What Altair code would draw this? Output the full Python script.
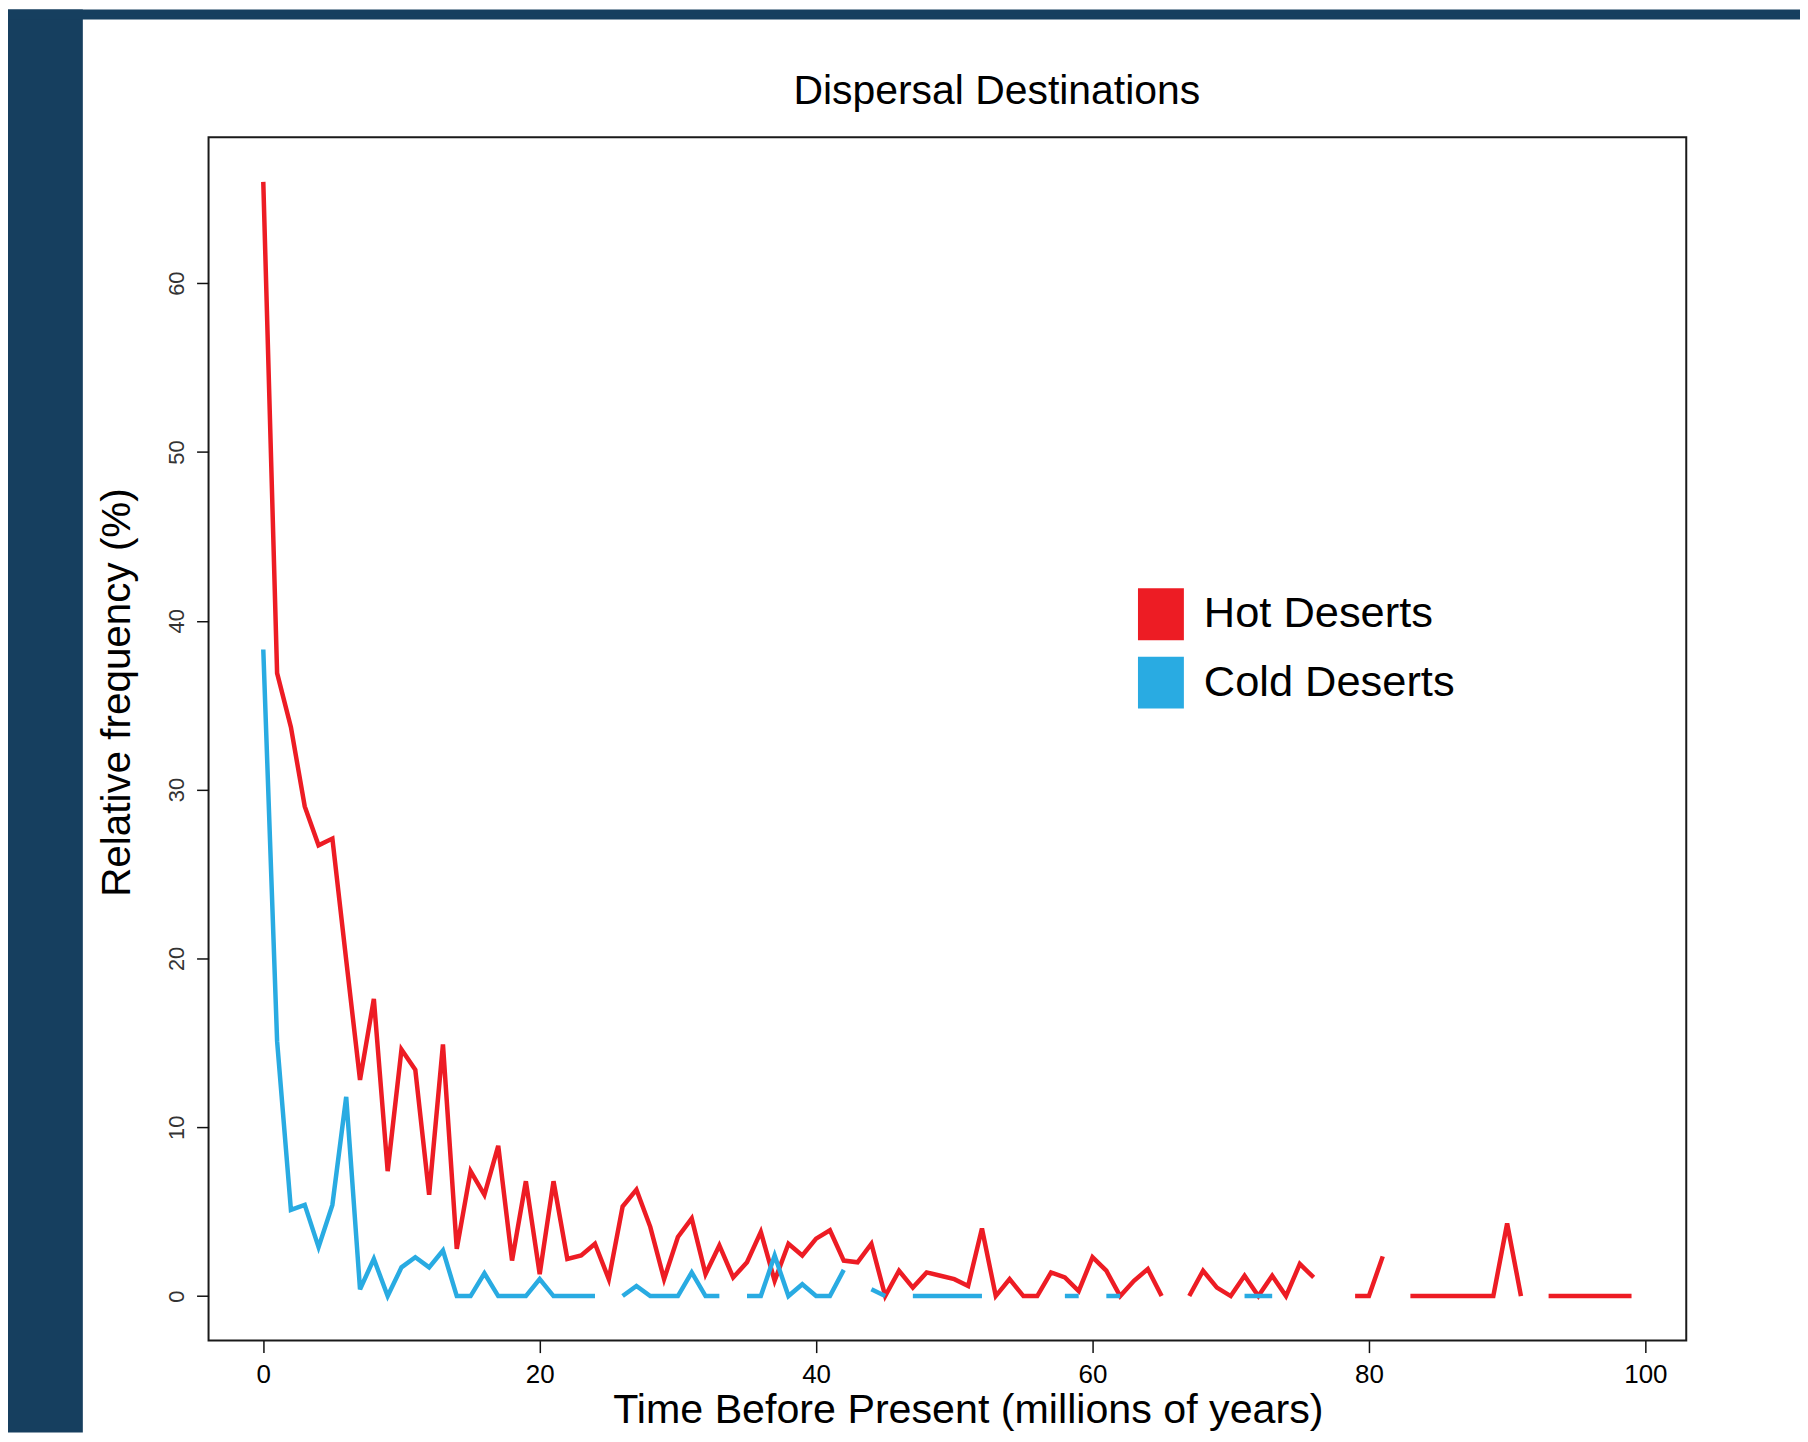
import altair as alt
import pandas as pd

# ---------------- data ----------------
years = list(range(100))

hot = [66.0, 36.9, 33.7, 29.0, 26.7, 27.1, 19.9, 12.8, 17.6, 7.4,
       14.6, 13.4, 6.0, 14.9, 2.8, 7.4, 6.0, 8.9, 2.1, 6.8,
       1.3, 6.8, 2.2, 2.4, 3.1, 1.0, 5.3, 6.3, 4.1, 1.0,
       3.5, 4.6, 1.3, 3.0, 1.1, 2.0, 3.8, 0.9, 3.1, 2.4,
       3.4, 3.9, 2.1, 2.0, 3.1, 0.0, 1.5, 0.5, 1.4, 1.2,
       1.0, 0.6, 4.0, 0.0, 1.0, 0.0, 0.0, 1.4, 1.1, 0.3,
       2.3, 1.5, 0.0, 0.9, 1.6, 0.0, None, 0.0, 1.5, 0.5,
       0.0, 1.2, 0.0, 1.2, 0.0, 1.9, 1.1, None, None, 0.0,
       0.0, 2.35, None, 0.0, 0.0, 0.0, 0.0, 0.0, 0.0, 0.0,
       4.3, 0.0, None, 0.0, 0.0, 0.0, 0.0, 0.0, 0.0, 0.0]

cold = [38.3, 15.1, 5.1, 5.4, 2.9, 5.4, 11.8, 0.4, 2.2, 0.0,
        1.7, 2.3, 1.7, 2.7, 0.0, 0.0, 1.35, 0.0, 0.0, 0.0,
        1.0, 0.0, 0.0, 0.0, 0.0, None, 0.0, 0.6, 0.0, 0.0,
        0.0, 1.4, 0.0, 0.0, None, 0.0, 0.0, 2.4, 0.0, 0.7,
        0.0, 0.0, 1.55, None, 0.4, 0.0, None, 0.0, 0.0, 0.0,
        0.0, 0.0, 0.0, None, None, None, None, None, 0.0, 0.0,
        None, 0.0, 0.0, None, None, None, None, None, None, None,
        None, 0.0, 0.0, 0.0, None, None, None, None, None, None,
        None, None, None, None, None, None, None, None, None, None,
        None, None, None, None, None, None, None, None, None, None]

series_names = ["Hot Deserts", "Cold Deserts"]
series_colors = ["#ED1C24", "#29ABE2"]
x_ticks = [0, 20, 40, 60, 80, 100]
y_ticks = [0, 10, 20, 30, 40, 50, 60]
chart_title = "Dispersal Destinations"

rows = []
for name, vals in zip(series_names, [hot, cold]):
    for yr, v in zip(years, vals):
        rows.append({"year": yr, "value": v, "series": name})
df = pd.DataFrame(rows)
one_row = pd.DataFrame({"label": [chart_title]})

# ---------------- layout ----------------
PL, PT, PR, PB = 201, 128, 114, 92
W, H = 1481, 1206
FONT = "Liberation Sans"
DARK = "#163F5F"

x_enc = alt.X(
    "year:Q",
    scale=alt.Scale(domain=[-3.96, 102.96], nice=False, zero=False),
    axis=alt.Axis(
        values=x_ticks, title="Time Before Present (millions of years)",
        labelFontSize=26, labelBaseline="alphabetic", labelPadding=30,
        labelFlush=False, labelOverlap=False,
        titleFontSize=41.3, titleX=761, titleY=82, titleBaseline="alphabetic",
        titleAlign="center",
    ),
)
y_enc = alt.Y(
    "value:Q",
    scale=alt.Scale(domain=[-2.64, 68.64], nice=False, zero=False),
    axis=alt.Axis(
        values=y_ticks, title="Relative frequency (%)",
        labelAngle=270, labelAlign="center", labelBaseline="alphabetic",
        labelPadding=13, labelFontSize=22, labelColor="#333333",
        titleAngle=270, titleX=-79, titleY=556, titleBaseline="alphabetic",
        titleAlign="center", titleFontSize=40.5,
    ),
)

base = alt.Chart(df).encode(x=x_enc, y=y_enc)

hot_line = base.transform_filter(alt.datum.series == "Hot Deserts").mark_line(
    color=series_colors[0], strokeWidth=4.5, strokeJoin="miter", strokeCap="butt"
)
cold_line = base.transform_filter(alt.datum.series == "Cold Deserts").mark_line(
    color=series_colors[1], strokeWidth=4.5, strokeJoin="miter", strokeCap="butt"
)

legend_layer = base.transform_filter("false").mark_point(filled=True, opacity=1).encode(
    fill=alt.Fill(
        "series:N",
        scale=alt.Scale(domain=series_names, range=series_colors),
        sort=series_names,
        legend=alt.Legend(
            orient="none", legendX=928.5, legendY=452, title=None,
            symbolType="M-0.885,-1H0.885V1H-0.885Z", symbolSize=2704,
            symbolStrokeWidth=0, symbolOpacity=1,
            labelFontSize=43.5, labelFont=FONT, labelColor="black",
            labelOffset=17, rowPadding=16.5, padding=0, labelLimit=800,
            zindex=1,
        ),
    )
)

title_mark = alt.Chart(one_row).mark_text(
    font=FONT, fontSize=41, fontWeight="normal", color="black",
    align="center", baseline="alphabetic"
).encode(
    x=alt.value(790), y=alt.value(-33), text="label:N"
)

band_left = alt.Chart(one_row).mark_rect(color=DARK).encode(
    x=alt.value(-PL), x2=alt.value(-126), y=alt.value(-PT), y2=alt.value(H + PB)
)
band_top = alt.Chart(one_row).mark_rect(color=DARK).encode(
    x=alt.value(-PL), x2=alt.value(W + PR), y=alt.value(-PT), y2=alt.value(-PT + 10)
)

chart = alt.layer(
    band_left, band_top, title_mark, hot_line, cold_line, legend_layer
).properties(
    width=W, height=H,
    autosize=alt.AutoSizeParams(type="none"),
    padding={"left": PL, "top": PT, "right": PR, "bottom": PB},
    background="white",
).configure_view(
    stroke="#1a1a1a", strokeWidth=2
).configure_axis(
    grid=False, domain=False, tickColor="#111111", tickWidth=1.5, tickSize=12,
    labelFont=FONT, titleFont=FONT, labelColor="black", titleColor="black",
    titleFontWeight="normal",
)

chart.save("out.html", embed_options={"renderer": "svg", "actions": False})
